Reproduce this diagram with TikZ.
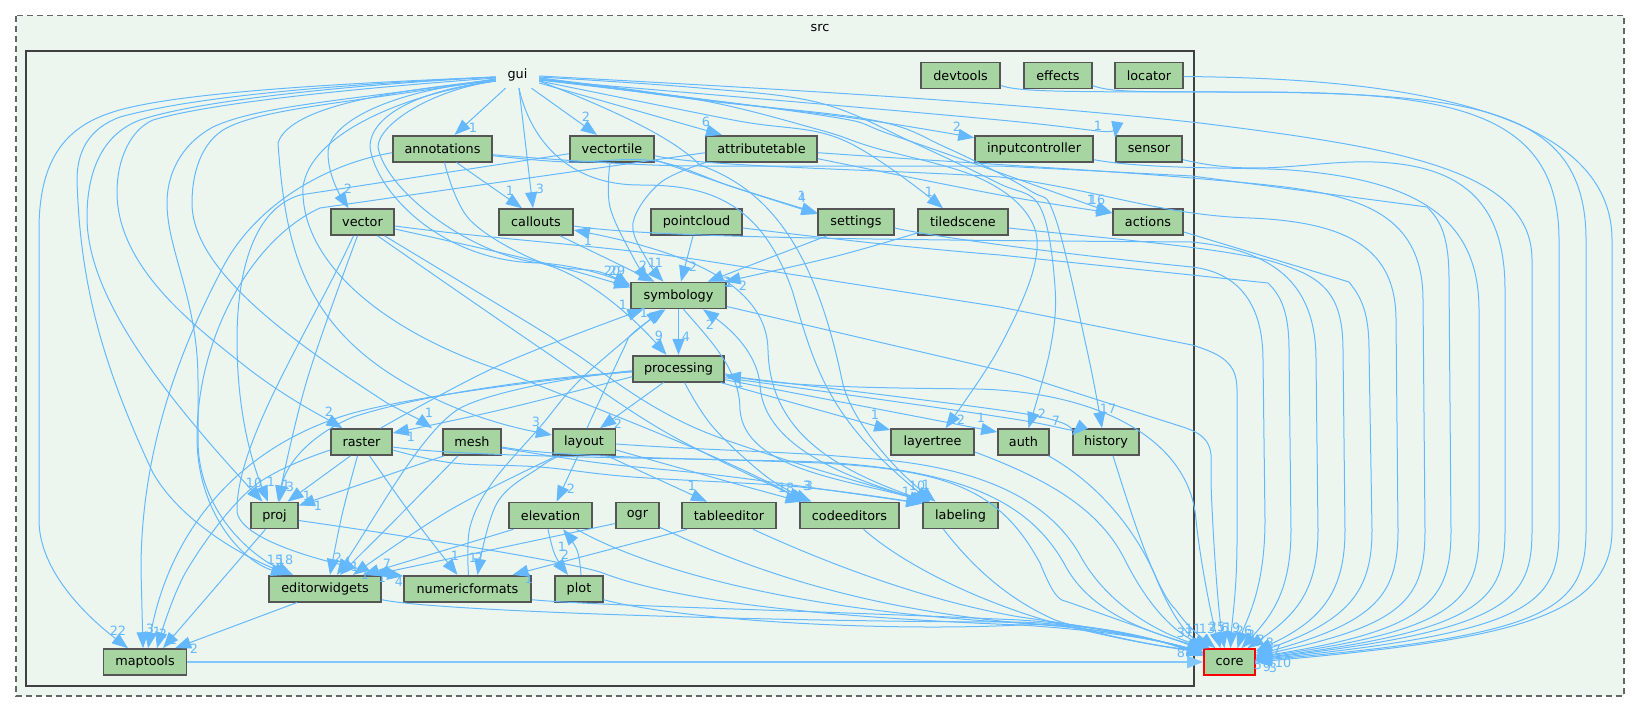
\documentclass[tikz,border=0pt]{standalone}
\usepackage{fontspec}
\setmainfont{DejaVu Sans}
\usetikzlibrary{arrows.meta}
\definecolor{edgeblue}{HTML}{63B8FF}
\definecolor{thickblue}{HTML}{80C6FF}
\definecolor{dirfill}{HTML}{A6D5A1}
\definecolor{srcfill}{HTML}{EDF6EE}
\definecolor{dirline}{HTML}{555555}
\newcounter{lc}
\newcommand\lbl[3]{\stepcounter{lc}\node[edgelabel] (lab\arabic{lc}) at (#1,#2) {#3};}
\newcommand\dep[1]{\draw[depline] plot[smooth,tension=.6] coordinates {#1};}
\newcommand\dirnode[5]{\node[dirbox,minimum width=#4pt] (#1) at (#2,#3) {#5};}
\tikzset{
 dirbox/.style={draw=dirline,fill=dirfill,line width=1.6pt,minimum height=26pt,inner sep=0pt,font=\fontsize{12.8}{15}\selectfont,text=black},
 depline/.style={draw=edgeblue,line width=1pt,-{Triangle[length=16pt,width=12pt]},fill=none},
 edgelabel/.style={text=edgeblue,inner sep=0pt,font=\fontsize{12.8}{15}\selectfont},
 srcframe/.style={draw=black!60,fill=srcfill,dashed,dash pattern=on 6pt off 4pt,line width=1.3pt},
 guiframe/.style={draw=black!75,fill=srcfill,line width=2.4pt},
 framelabel/.style={inner sep=0pt,font=\fontsize{12.8}{15}\selectfont},
}
\begin{document}
\begin{tikzpicture}[x=1pt,y=-1pt]
\useasboundingbox (0,0) rectangle (1637,712);
\draw[srcframe] (16,15.7) rectangle (1624,696);
\node[framelabel] (srclabel) at (820,28) {src};
\draw[guiframe] (26,51) rectangle (1194,686);
\node[framelabel,minimum width=43pt,minimum height=26pt] (gui) at (517.5,75) {gui};
\dirnode{devtools}{960.5}{75.5}{79}{devtools}
\dirnode{effects}{1058}{75.5}{67.5}{effects}
\dirnode{locator}{1149}{75.5}{67.5}{locator}
\dirnode{annotations}{442.5}{148.7}{99}{annotations}
\dirnode{vectortile}{612}{148.7}{84}{vectortile}
\dirnode{attributetable}{761.5}{148.7}{111}{attributetable}
\dirnode{inputcontroller}{1034}{148.7}{118}{inputcontroller}
\dirnode{sensor}{1149}{148.7}{66.5}{sensor}
\dirnode{vector}{362.5}{222}{63}{vector}
\dirnode{callouts}{536}{222}{74}{callouts}
\dirnode{pointcloud}{696.5}{222}{91}{pointcloud}
\dirnode{settings}{856}{222}{75.5}{settings}
\dirnode{tiledscene}{963}{222}{90}{tiledscene}
\dirnode{actions}{1148}{222}{70}{actions}
\dirnode{symbology}{678.5}{295.5}{95}{symbology}
\dirnode{processing}{678.5}{368.7}{91}{processing}
\dirnode{raster}{361.5}{442}{61}{raster}
\dirnode{mesh}{472}{442}{58.5}{mesh}
\dirnode{layout}{584}{442}{62.6}{layout}
\dirnode{layertree}{932.5}{442}{83}{layertree}
\dirnode{auth}{1023.5}{442}{51}{auth}
\dirnode{history}{1106}{442}{66.5}{history}
\dirnode{proj}{274.5}{515.5}{47}{proj}
\dirnode{elevation}{550.5}{515.5}{83}{elevation}
\dirnode{ogr}{637.5}{515.5}{43}{ogr}
\dirnode{tableeditor}{729}{515.5}{93.5}{tableeditor}
\dirnode{codeeditors}{849.5}{515.5}{99}{codeeditors}
\dirnode{labeling}{960.5}{515.5}{75}{labeling}
\dirnode{editorwidgets}{325}{588.7}{112}{editorwidgets}
\dirnode{numericformats}{467.5}{588.7}{127}{numericformats}
\dirnode{plot}{579}{588.7}{47.5}{plot}
\dirnode{maptools}{145}{662}{83}{maptools}
\node[dirbox,draw=red,minimum width=51pt] (core) at (1229.5,662) {core};
% gui, left side
\draw[depline] ([yshift=-2]gui.west) .. controls (350,83) and (170,92) .. (110,113) .. controls (65,128) and (39,160) .. (39,230) -- (39,520) .. controls (39,570) and (85,615) .. ([xshift=-17]maptools.north);
\draw[depline] ([yshift=-2]gui.west) .. controls (350,84) and (200,95) .. (120,117) .. controls (90,128) and (77,150) .. (77,180) .. controls (80,280) and (100,360) .. (153,473) .. controls (180,520) and (240,555) .. ([xshift=-35]editorwidgets.north);
\draw[depline] ([yshift=-2]gui.west) .. controls (350,85) and (200,100) .. (140,120) .. controls (100,135) and (87,175) .. (87,217) .. controls (87,290) and (150,380) .. ([xshift=-12]proj.north);
\draw[depline] ([yshift=-3]gui.west) .. controls (400,85) and (220,100) .. (153,120) .. controls (130,130) and (117,160) .. (117,192) .. controls (117,270) and (200,330) .. (250,370) .. controls (290,400) and (320,415) .. ([xshift=-19]raster.north);
\draw[depline] ([yshift=-4]gui.west) .. controls (353,100) and (260,105) .. (213,127) .. controls (180,145) and (167,175) .. (167,203) .. controls (167,250) and (198,300) .. (198,380) -- (198,440) .. controls (198,510) and (250,555) .. ([xshift=-32]editorwidgets.north);
\draw[depline] ([yshift=-4]gui.west) .. controls (353,103) and (260,108) .. (223,130) .. controls (200,145) and (192,175) .. (192,203) .. controls (192,270) and (290,340) .. (387,403) .. controls (400,410) and (420,420) .. ([xshift=-40]mesh.north);
\draw[depline] ([yshift=-5]gui.west) .. controls (400,90) and (290,105) .. (278,143) .. controls (285,240) and (300,320) .. (400,380) .. controls (450,410) and (500,425) .. ([yshift=7]layout.west);
\draw[depline] ([yshift=-6]gui.west) .. controls (400,95) and (310,135) .. (303,187) .. controls (300,260) and (380,330) .. (500,370) .. controls (600,410) and (720,455) .. ([xshift=-45]codeeditors.north);
\draw[depline] ([yshift=-6]gui.west) .. controls (400,88) and (328,120) .. (328,153) .. controls (328,175) and (340,195) .. ([xshift=-14]vector.north);
\draw[depline] ([yshift=-6]gui.west) .. controls (420,90) and (370,115) .. (370,147) .. controls (375,190) and (440,262) .. (540,263) .. controls (575,265) and (605,275) .. ([yshift=11]symbology.west);
\draw[depline] ([yshift=-6]gui.west) .. controls (430,90) and (378,125) .. (378,147) .. controls (385,190) and (470,255) .. (540,263) .. controls (590,275) and (640,325) .. ([xshift=-12]processing.north);
% gui, down and right
\dep{([xshift=-12]gui.south) ([xshift=12]annotations.north)}
\dep{([xshift=1.5]gui.south) ([xshift=-3]callouts.north)}
\dep{([xshift=14]gui.south) ([xshift=-15]vectortile.north)}
\dep{([yshift=-8]gui.east) ([xshift=-39.5]attributetable.north)}
\draw[depline] ([xshift=1.5]gui.south) .. controls (528,130) and (560,185) .. (640,185) .. controls (700,185) and (760,195) .. (793,293) .. controls (815,370) and (830,420) .. ([xshift=-30]labeling.north);
\draw[depline] ([yshift=-6]gui.east) .. controls (640,120) and (680,145) .. (700,165) .. controls (770,190) and (815,250) .. (842,380) .. controls (850,420) and (895,470) .. ([xshift=-25]labeling.north);
\dep{([yshift=-4]gui.east) (733,103) (867,120) ([yshift=11]inputcontroller.west)}
\dep{([yshift=-5]gui.east) (1020,122) ([yshift=11]sensor.west)}
\dep{([yshift=-6]gui.east) (733,120) (843,140) ([xshift=-20]tiledscene.north)}
\dep{([yshift=-5]gui.east) (820,115) (898,137) ([yshift=9]actions.west)}
\dep{([yshift=-3]gui.east) (700,100) (820,130) (872,147) (977,177) (1029,217) (1034,267) (998,350) ([xshift=13]layertree.north)}
\dep{([yshift=-2]gui.east) (700,88) (820,103) (914,143) (998,183) (1040,207) (1055,287) (1050,350) ([xshift=5]auth.north)}
\dep{([yshift=-3]gui.east) (700,100) (872,120) (945,147) (1029,190) (1055,217) (1087,350) ([xshift=-4]history.north)}
% the long runs round the right side down to core
\draw[depline] ([yshift=-1]gui.east) .. controls (800,90) and (1020,103) .. (1200,123) .. controls (1400,148) and (1532,170) .. (1532,260) -- (1532,530) .. controls (1532,600) and (1510,630) .. ([yshift=3]core.east);
\draw[depline] ([yshift=-1]locator.east) .. controls (1330,78) and (1612,90) .. (1612,240) -- (1612,530) .. controls (1612,620) and (1500,640) .. ([yshift=0]core.east);
\draw[depline] ([yshift=-10]effects.east) .. controls (1110,92) and (1130,92) .. (1250,92) .. controls (1480,94) and (1586,110) .. (1586,240) -- (1586,530) .. controls (1586,610) and (1550,635) .. ([yshift=1.5]core.east);
\draw[depline] ([yshift=-10]devtools.east) .. controls (1020,92) and (1060,92) .. (1250,92) .. controls (1450,92) and (1559,110) .. (1559,240) -- (1559,530) .. controls (1559,605) and (1530,632) .. ([yshift=2.2]core.east);
\draw[depline] ([yshift=-11]sensor.east) .. controls (1260,178) and (1310,160) .. (1374,162) .. controls (1470,165) and (1505,210) .. (1505,290) -- (1505,530) .. controls (1505,600) and (1483,630) .. ([yshift=3.5]core.east);
\draw[depline] ([yshift=-11]inputcontroller.east) .. controls (1150,170) and (1250,167) .. (1290,170) .. controls (1420,180) and (1479,220) .. (1479,310) -- (1479,530) .. controls (1479,600) and (1457,630) .. ([yshift=4.5]core.east);
\draw[depline] ([yshift=-6]annotations.east) .. controls (560,160) and (640,166) .. (700,166) -- (1000,166) -- (1192,176) -- (1427,207) .. controls (1440,220) and (1449,235) .. (1449,280) -- (1451,530) .. controls (1451,600) and (1429,630) .. ([yshift=5]core.east);
\draw[depline] ([yshift=-4]attributetable.east) .. controls (950,162) and (1100,170) .. (1192,178) .. controls (1320,190) and (1423,190) .. (1423,300) -- (1425,530) .. controls (1425,600) and (1403,625) .. ([yshift=6]core.east);
\draw[depline] ([yshift=-7]vectortile.east) .. controls (700,167) and (900,170) .. (1000,177) .. controls (1100,190) and (1160,215) .. (1250,218) .. controls (1350,222) and (1396,250) .. (1396,320) -- (1398,530) .. controls (1398,595) and (1376,622) .. ([yshift=7]core.east);
\draw[depline] ([yshift=-10]actions.east) -- (1349,282) .. controls (1360,296) and (1369,310) .. (1369,350) -- (1372,530) .. controls (1372,590) and (1350,620) .. ([yshift=9]core.east);
\draw[depline] ([yshift=-6]tiledscene.east) .. controls (1100,238) and (1200,245) .. (1267,260) .. controls (1320,275) and (1343,290) .. (1343,350) -- (1345,530) .. controls (1345,590) and (1323,620) .. ([yshift=11]core.east);
\draw[depline] ([yshift=-4]callouts.east) .. controls (650,238) and (900,240) .. (1192,242) .. controls (1270,250) and (1316,280) .. (1316,360) -- (1318,530) .. controls (1318,590) and (1296,615) .. ([xshift=18]core.north);
\draw[depline] ([yshift=-6]pointcloud.east) .. controls (800,235) and (900,247) .. (1000,255) -- (1268,283) .. controls (1280,295) and (1289,310) .. (1289,350) -- (1291,530) .. controls (1291,590) and (1272,615) .. ([xshift=12]core.north);
\draw[depline] ([yshift=-6]settings.east) .. controls (950,240) and (1100,258) .. (1192,267) .. controls (1235,272) and (1263,300) .. (1263,360) -- (1265,520) .. controls (1265,590) and (1246,620) .. ([xshift=8]core.north);
\draw[depline] ([yshift=-4]vector.east) .. controls (500,240) and (600,245) .. (700,260) -- (1000,307) -- (1192,345) .. controls (1225,355) and (1237,365) .. (1237,390) -- (1237,540) .. controls (1237,590) and (1232,620) .. ([xshift=1]core.north);
\draw[depline] ([yshift=-11]symbology.east) -- (1020,375) -- (1186,428) .. controls (1200,433) and (1210,440) .. (1211,455) -- (1211,483) .. controls (1213,540) and (1218,610) .. ([xshift=-5]core.north);
\draw[depline] ([yshift=-5]processing.east) .. controls (770,388) and (900,388) .. (977,389) .. controls (1100,392) and (1190,440) .. (1196,520) .. controls (1200,560) and (1212,620) .. ([xshift=-9]core.north);
% annotations
\draw[depline] ([yshift=-4]annotations.west) .. controls (320,165) and (250,210) .. (220,273) .. controls (180,350) and (141,450) .. (141,570) -- ([xshift=-2]maptools.north);
\dep{([xshift=2]annotations.south) (470,220) (540,262) (600,272) ([yshift=9]symbology.west)}
\dep{([xshift=14]annotations.south) ([xshift=-14]callouts.north)}
\dep{([yshift=-7]annotations.east) (567,162) (655,161) (733,187) ([yshift=9]settings.west)}
% vectortile
\draw[depline] ([yshift=-5]vectortile.west) -- (300,195) .. controls (250,210) and (237,280) .. (237,340) .. controls (237,420) and (255,470) .. ([xshift=-6.5]proj.north);
\dep{([xshift=-2]vectortile.south) (610,207) (633,257) ([xshift=-30]symbology.north)}
\dep{([yshift=-11]vectortile.east) (733,187) ([yshift=8]settings.west)}
% attributetable
\draw[depline] ([yshift=-4]attributetable.west) -- (320,208) .. controls (250,240) and (197,340) .. (197,437) .. controls (197,510) and (240,560) .. ([xshift=-38]editorwidgets.north);
\dep{([xshift=-56]attributetable.south) (660,183) (633,223) (647,260) ([xshift=-15]symbology.north)}
\dep{([yshift=-10]attributetable.east) (1000,195) ([yshift=9]actions.west)}
% third row
\dep{([xshift=-3.5]pointcloud.south) ([xshift=2.5]symbology.north)}
\dep{([xshift=-29]settings.south) ([xshift=29]symbology.north)}
\dep{([yshift=-11]tiledscene.west) (833,257) ([xshift=46]symbology.north)}
\dep{([xshift=24]callouts.south) ([xshift=-24]symbology.north)}
\draw[depline] ([xshift=-32]labeling.north) .. controls (830,470) and (770,430) .. (768,350) .. controls (767,290) and (700,255) .. ([yshift=-8]callouts.east);
\draw[depline] ([xshift=-32]labeling.north) .. controls (830,475) and (763,440) .. (760,385) .. controls (757,350) and (725,325) .. ([xshift=24.5]symbology.south);
\draw[depline] ([xshift=5]symbology.south) .. controls (710,340) and (740,370) .. (740,410) .. controls (745,470) and (850,480) .. ([xshift=-35]labeling.north);
\dep{(symbology.south) (processing.north)}
% vector
\dep{([yshift=-7]vector.east) (540,262) ([yshift=8]symbology.west)}
\dep{([xshift=-5]vector.south) (307,380) ([xshift=3.5]proj.north)}
\draw[depline] ([xshift=-9]vector.south) .. controls (310,330) and (237,440) .. (237,510) .. controls (237,540) and (330,565) .. ([yshift=12.5]numericformats.west);
\dep{([xshift=15]vector.south) (540,348) (667,433) ([xshift=-42]codeeditors.north)}
\dep{([xshift=22]vector.south) (540,330) (570,350) (700,430) ([xshift=-32]labeling.north)}
% raster
\dep{([xshift=-11]raster.south) ([xshift=13]proj.north)}
\dep{([xshift=-4]raster.south) (342,515) ([xshift=5]editorwidgets.north)}
\dep{([xshift=8]raster.south) (415,520) ([xshift=-10]numericformats.north)}
\dep{([yshift=-8]raster.west) (253,487) (187,570) ([xshift=12]maptools.north)}
\dep{([xshift=19]raster.north) (500,365) ([xshift=-35]symbology.south)}
\draw[depline] ([yshift=-5]raster.east) .. controls (470,458) and (700,458) .. (820,462) .. controls (960,470) and (1030,500) .. (1066,567) .. controls (1090,610) and (1140,630) .. (core.150);
\dep{([yshift=-8]raster.east) (453,463) (540,467) (633,477) (800,487) ([yshift=12]labeling.west)}
% mesh
\draw[depline] ([yshift=-5]mesh.east) .. controls (560,458) and (700,458) .. (820,463) .. controls (950,470) and (1000,490) .. (1040,563) .. controls (1055,600) and (1060,600) .. (1068,602) -- (core.155);
\dep{([yshift=-6]mesh.east) (600,463) (733,477) ([yshift=12]labeling.west)}
\dep{([xshift=-28]mesh.south) ([yshift=10]proj.east)}
\dep{([xshift=-14]mesh.south) (400,515) ([xshift=15]editorwidgets.north)}
% layout
\dep{([xshift=3]layout.north) (623,350) (633,333) ([xshift=-13]symbology.south)}
\draw[depline] ([yshift=-2]layout.east) .. controls (700,450) and (800,452) .. (860,458) .. controls (980,465) and (1050,500) .. (1081,557) .. controls (1105,600) and (1150,630) .. (core.147);
\dep{([yshift=-8]layout.east) (733,483) ([xshift=-48]codeeditors.north)}
\dep{([xshift=23]layout.south) ([xshift=-22]tableeditor.north)}
\dep{([xshift=-6]layout.south) ([xshift=6]elevation.north)}
\dep{([xshift=-27]layout.south) (450,510) ([xshift=28]editorwidgets.north)}
\dep{([xshift=-24]layout.south) (540,467) (497,503) ([xshift=10]numericformats.north)}
\dep{([xshift=1]numericformats.north) (470,527) (492,483) (540,427) (583,377) ([xshift=-16]symbology.south)}
% processing
\draw[depline] ([yshift=-3]processing.west) .. controls (560,378) and (420,395) .. (353,413) .. controls (240,445) and (170,530) .. ([xshift=3]maptools.north);
\draw[depline] ([yshift=-3]processing.west) .. controls (560,376) and (430,392) .. (353,417) .. controls (310,435) and (285,465) .. ([xshift=5]proj.north);
\draw[depline] ([yshift=-2]processing.west) .. controls (560,378) and (480,395) .. (457,410) .. controls (420,435) and (380,510) .. ([xshift=12]editorwidgets.north);
\dep{([yshift=-8]processing.west) (500,410) ([yshift=9]raster.east)}
\dep{([xshift=-15]processing.south) ([xshift=16]layout.north)}
\dep{([xshift=6]processing.south) (713,427) (767,477) ([xshift=-38]codeeditors.north)}
\dep{([xshift=42]processing.south) ([yshift=12]layertree.west)}
\dep{([yshift=-11]processing.east) ([yshift=10]auth.west)}
\dep{([yshift=-9]processing.east) (1020,420) ([yshift=7]history.west)}
\dep{([yshift=11]history.west) (1020,413) ([yshift=-7]processing.east)}
% lower nodes
\draw[depline] ([yshift=-10]layertree.east) .. controls (1050,480) and (1100,510) .. (1125,560) .. controls (1145,600) and (1170,630) .. (core.145);
\draw[depline] ([xshift=25]auth.south) .. controls (1100,485) and (1135,530) .. (1155,575) .. controls (1165,600) and (1180,630) .. ([xshift=-20]core.north);
\draw[depline] ([xshift=7]history.south) .. controls (1130,510) and (1155,590) .. (1176,610) .. controls (1190,630) and (1205,640) .. ([xshift=-14]core.north);
\draw[depline] ([xshift=-17]labeling.south) .. controls (975,570) and (1010,600) .. (1055,620) .. controls (1100,635) and (1150,645) .. (core.158);
\draw[depline] ([xshift=14]codeeditors.south) .. controls (910,570) and (990,605) .. (1055,623) .. controls (1100,635) and (1150,645) .. (core.160);
\draw[depline] ([yshift=-5]proj.east) .. controls (400,535) and (560,560) .. (600,572) .. controls (660,595) and (770,615) .. (1020,625) .. controls (1100,630) and (1160,640) .. (core.160);
\draw[depline] ([xshift=26]elevation.south) .. controls (640,565) and (780,610) .. (1020,623) .. controls (1100,628) and (1160,640) .. (core.160);
\draw[depline] ([yshift=2]ogr.south east) .. controls (720,555) and (830,605) .. (1020,623) .. controls (1100,628) and (1160,640) .. (core.162);
\draw[depline] ([xshift=24]tableeditor.south) .. controls (820,560) and (920,600) .. (1020,617) .. controls (1100,628) and (1160,640) .. (core.162);
\draw[depline] ([yshift=-11]numericformats.east) .. controls (600,606) and (800,610) .. (1020,620) .. controls (1100,625) and (1160,640) .. (core.165);
\draw[depline] ([yshift=-11]editorwidgets.east) .. controls (440,612) and (800,622) .. (1020,622) .. controls (1100,625) and (1160,640) .. (core.165);
\draw[depline] ([yshift=-11]plot.east) .. controls (680,620) and (880,632) .. (1020,625) .. controls (1100,622) and (1160,640) .. (core.167);
\dep{([xshift=-9]proj.south) ([xshift=18]maptools.north)}
\dep{([xshift=-28]editorwidgets.south) ([xshift=30]maptools.north)}
\dep{([xshift=-2.5]elevation.south) (555,555) ([xshift=-11]plot.north)}
\dep{([xshift=2]plot.north) (577,550) ([xshift=12.5]elevation.south)}
\dep{([xshift=-37]elevation.south) ([xshift=38]editorwidgets.north)}
\dep{([yshift=-8]ogr.west) ([xshift=48]editorwidgets.north)}
\dep{([xshift=-42]tableeditor.south) ([xshift=45]numericformats.north)}
\draw[depline,draw=thickblue,line width=1.8pt] (maptools.east) -- (core.west);
% edge labels
\lbl{473}{128}{1}\lbl{348}{189}{2}\lbl{510}{191}{1}\lbl{540}{189}{3}\lbl{586}{117}{2}\lbl{706}{122}{6}
\lbl{957}{127}{2}\lbl{1098}{126}{1}\lbl{929}{192}{1}\lbl{802}{196}{1}\lbl{802}{198}{4}\lbl{1091}{200}{1}\lbl{1097}{200}{16}
\lbl{612}{271}{20}\lbl{617}{271}{29}\lbl{643}{266}{2}\lbl{652}{263}{1}\lbl{659}{263}{1}\lbl{693}{267}{2}
\lbl{727}{282}{3}\lbl{729}{283}{1}\lbl{743}{286}{2}\lbl{623}{305}{1}\lbl{644}{313}{1}\lbl{710}{325}{2}\lbl{686}{337}{4}\lbl{659}{336}{9}\lbl{588}{241}{1}
\lbl{740}{383}{1}\lbl{329}{412}{2}\lbl{429}{413}{1}\lbl{411}{437}{1}\lbl{536}{422}{3}\lbl{618}{424}{2}\lbl{875}{415}{1}\lbl{961}{420}{2}\lbl{981}{418}{1}\lbl{1042}{414}{2}\lbl{1056}{421}{7}\lbl{1108}{409}{17}
\lbl{254}{483}{10}\lbl{271}{482}{1}\lbl{286}{485}{1}\lbl{290}{487}{3}\lbl{307}{496}{1}\lbl{318}{506}{1}
\lbl{571}{489}{2}\lbl{692}{486}{1}\lbl{786}{488}{18}\lbl{807}{486}{3}\lbl{809}{486}{3}\lbl{906}{492}{1}\lbl{917}{486}{10}\lbl{926}{485}{1}
\lbl{562}{547}{1}\lbl{565}{555}{2}
\lbl{275}{560}{15}\lbl{285}{560}{18}\lbl{338}{558}{2}\lbl{347}{562}{4}\lbl{355}{567}{1}\lbl{387}{564}{7}\lbl{365}{575}{1}\lbl{382}{578}{1}\lbl{399}{582}{4}\lbl{455}{556}{1}\lbl{473}{558}{1}\lbl{479}{558}{2}\lbl{529}{579}{1}
\lbl{118}{631}{22}\lbl{150}{629}{3}\lbl{157}{632}{1}\lbl{163}{634}{2}\lbl{173}{640}{1}\lbl{194}{649}{2}
\lbl{1185}{633}{37}\lbl{1193}{629}{11}\lbl{1207}{629}{13}\lbl{1217}{627}{25}\lbl{1225}{628}{6}\lbl{1232}{628}{19}\lbl{1244}{631}{26}\lbl{1251}{635}{3}\lbl{1261}{640}{2}\lbl{1270}{643}{3}\lbl{1277}{650}{7}
\lbl{1258}{665}{5}\lbl{1267}{667}{9}\lbl{1273}{668}{3}\lbl{1283}{663}{10}\lbl{1185}{653}{87}
\end{tikzpicture}
\end{document}
